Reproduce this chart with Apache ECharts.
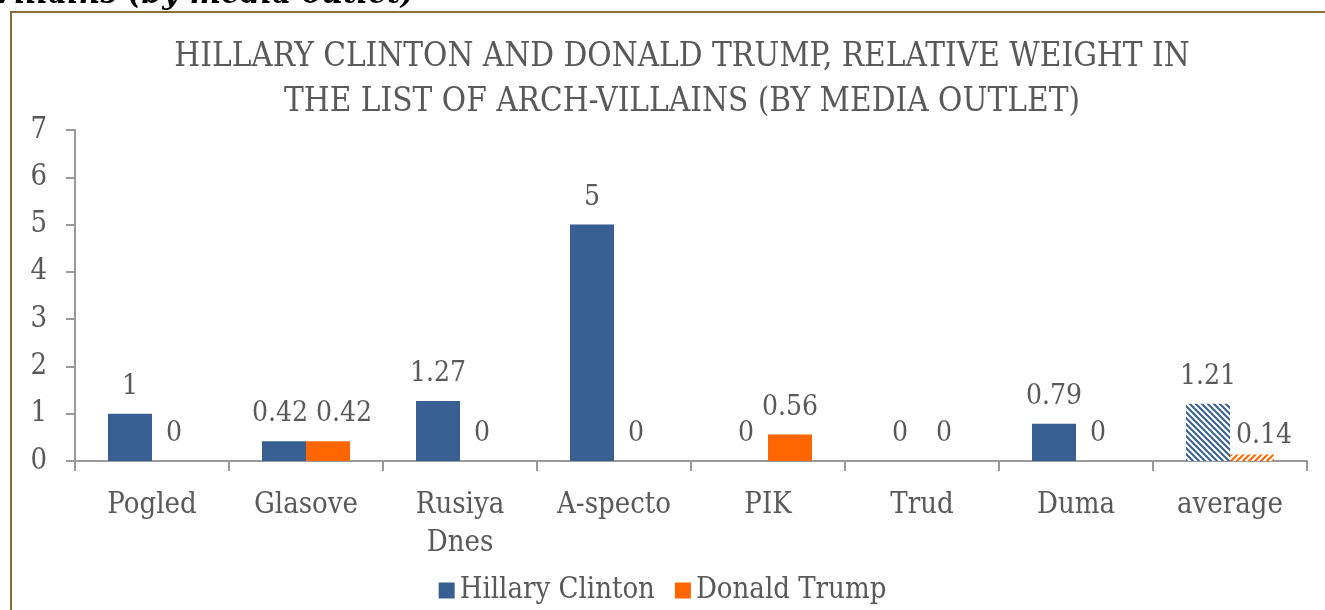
<!DOCTYPE html>
<html>
<head>
<meta charset="utf-8">
<script src="https://cdn.jsdelivr.net/npm/echarts@6/dist/echarts.min.js"></script>
<style>
  html, body { margin: 0; padding: 0; background: #fff; }
  #chart { width: 1325px; height: 610px; }
</style>
</head>
<body>
<div id="chart"></div>
<script>
const categories = ['Pogled', 'Glasove', 'Rusiya\nDnes', 'A-specto', 'PIK', 'Trud', 'Duma', 'average']
const clinton = [1, 0.42, 1.27, 5, 0, 0, 0.79, 1.21]
const trump = [0, 0.42, 0, 0, 0.56, 0, 0, 0.14]

const FONT = '"DejaVu Serif Condensed", "DejaVu Serif", serif'
const TEXT = '#595959'
const BLUE = '#375F91'
const ORANGE = '#FF6600'

// hatched fill used for the "average" bars
function hatch(color, dir) {
  const c = document.createElement('canvas')
  c.width = 6
  c.height = 6
  const ctx = c.getContext('2d')
  ctx.fillStyle = '#fff'
  ctx.fillRect(0, 0, 6, 6)
  ctx.strokeStyle = color
  ctx.lineWidth = 2
  ctx.beginPath()
  if (dir === 'down') {
    ctx.moveTo(-3, -3); ctx.lineTo(9, 9)
    ctx.moveTo(-3, 3); ctx.lineTo(3, 9)
    ctx.moveTo(3, -3); ctx.lineTo(9, 3)
  } else {
    ctx.moveTo(-3, 9); ctx.lineTo(9, -3)
    ctx.moveTo(-3, 3); ctx.lineTo(3, -3)
    ctx.moveTo(3, 9); ctx.lineTo(9, 3)
  }
  ctx.stroke()
  return { image: c, repeat: 'repeat' }
}

// a few labels were nudged by hand in the original
const clintonLabelShift = { 1: [-4, 0] }
const trumpLabelShift = { 1: [16, 0], 7: [12, 8] }

function build(values, pattern, shifts) {
  return values.map((v, i) => {
    const item = { value: v }
    if (i === values.length - 1) item.itemStyle = { color: pattern }
    if (shifts && shifts[i]) item.label = { offset: shifts[i] }
    return item
  })
}

const label = {
  show: true,
  position: 'top',
  distance: 13,
  color: TEXT,
  fontFamily: FONT,
  fontSize: 28
}

const chart = echarts.init(document.getElementById('chart'))
chart.setOption({
  animation: false,
  textStyle: { fontFamily: FONT },
  title: {
    text: 'HILLARY CLINTON AND DONALD TRUMP, RELATIVE WEIGHT IN\nTHE LIST OF ARCH-VILLAINS (BY MEDIA OUTLET)',
    left: 677,
    top: 30,
    textAlign: 'center',
    textStyle: { color: TEXT, fontFamily: FONT, fontSize: 33, fontWeight: 'normal', lineHeight: 45 }
  },
  graphic: [
    {
      type: 'rect',
      shape: { x: 11, y: 12, width: 1340, height: 640 },
      style: { fill: 'none', stroke: '#8B6B3A', lineWidth: 2 }
    },
    {
      type: 'text',
      left: -8,
      top: -22,
      style: {
        text: 'Villains (by media outlet)',
        fill: '#000',
        font: 'italic bold 33px "DejaVu Serif Condensed", serif'
      }
    }
  ],
  legend: {
    bottom: 0,
    left: 'center',
    itemWidth: 16,
    itemHeight: 16,
    itemGap: 20,
    icon: 'rect',
    textStyle: { color: TEXT, fontFamily: FONT, fontSize: 29 },
    data: ['Hillary Clinton', 'Donald Trump']
  },
  grid: { left: 75, right: 18, top: 130, bottom: 149 },
  xAxis: {
    type: 'category',
    data: categories,
    axisLine: { lineStyle: { color: '#9a9a9a', width: 2 } },
    axisTick: { show: true, length: 10, lineStyle: { color: '#9a9a9a', width: 2 } },
    axisLabel: { color: TEXT, fontFamily: FONT, fontSize: 29, margin: 25, lineHeight: 38, interval: 0 }
  },
  yAxis: {
    type: 'value',
    min: 0,
    max: 7,
    interval: 1,
    axisLine: { show: true, lineStyle: { color: '#9a9a9a', width: 2 } },
    axisTick: { show: true, length: 9, lineStyle: { color: '#9a9a9a', width: 2 } },
    splitLine: { show: false },
    axisLabel: { color: TEXT, fontFamily: FONT, fontSize: 29, margin: 28 }
  },
  series: [
    {
      name: 'Hillary Clinton',
      type: 'bar',
      data: build(clinton, hatch(BLUE, 'down'), clintonLabelShift),
      itemStyle: { color: BLUE },
      barWidth: 44,
      barGap: '0%',
      label
    },
    {
      name: 'Donald Trump',
      type: 'bar',
      data: build(trump, hatch(ORANGE, 'up'), trumpLabelShift),
      itemStyle: { color: ORANGE },
      barWidth: 44,
      label
    }
  ]
})
</script>
</body>
</html>
